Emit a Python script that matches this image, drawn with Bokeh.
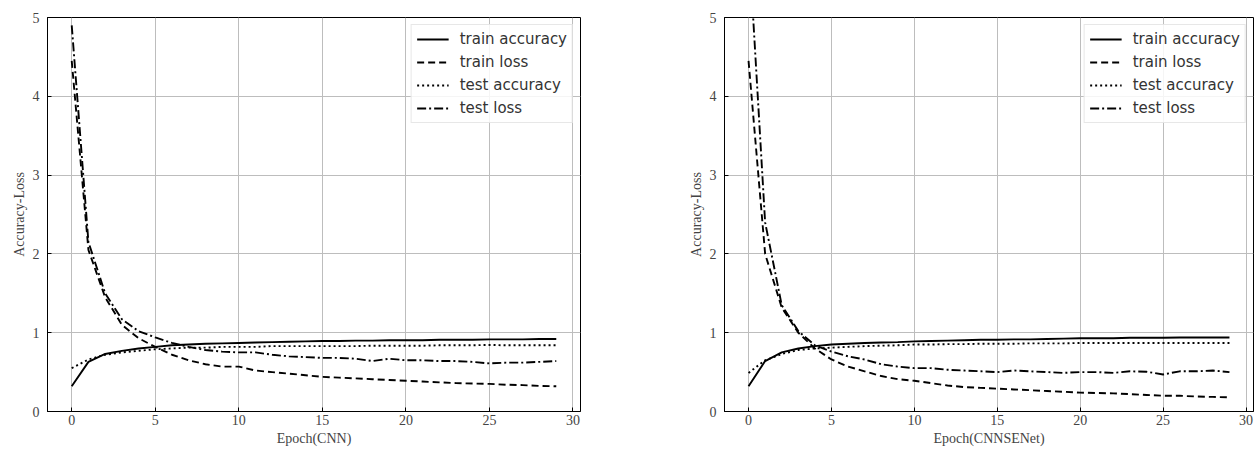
from bokeh.plotting import figure
from bokeh.layouts import row
from bokeh.models import Range1d, FixedTicker
from bokeh.embed import file_html
from bokeh.resources import INLINE

epochs = list(range(30))

# ---- CNN (left) ----
cnn_train_acc = [0.32, 0.63, 0.73, 0.77, 0.80, 0.82, 0.84, 0.85, 0.86, 0.865,
                 0.87, 0.875, 0.88, 0.885, 0.89, 0.895, 0.895, 0.90, 0.90, 0.905,
                 0.905, 0.905, 0.91, 0.91, 0.91, 0.915, 0.915, 0.915, 0.92, 0.92]
cnn_train_loss = [4.45, 2.05, 1.45, 1.10, 0.93, 0.82, 0.72, 0.65, 0.60, 0.57,
                  0.57, 0.52, 0.50, 0.48, 0.46, 0.44, 0.43, 0.42, 0.41, 0.40,
                  0.39, 0.38, 0.37, 0.36, 0.355, 0.35, 0.34, 0.335, 0.325, 0.32]
cnn_test_acc = [0.55, 0.66, 0.72, 0.75, 0.77, 0.79, 0.80, 0.81, 0.81, 0.82,
                0.82, 0.82, 0.83, 0.83, 0.83, 0.83, 0.83, 0.83, 0.835, 0.835,
                0.835, 0.835, 0.84, 0.84, 0.84, 0.845, 0.84, 0.84, 0.84, 0.84]
cnn_test_loss = [4.90, 2.15, 1.50, 1.17, 1.02, 0.94, 0.87, 0.82, 0.78, 0.76,
                 0.75, 0.75, 0.72, 0.70, 0.69, 0.68, 0.68, 0.67, 0.64, 0.67,
                 0.65, 0.65, 0.64, 0.64, 0.63, 0.61, 0.62, 0.62, 0.63, 0.64]

# ---- CNNSENet (right) ----
se_train_acc = [0.32, 0.64, 0.75, 0.80, 0.83, 0.85, 0.86, 0.87, 0.875, 0.88,
                0.89, 0.895, 0.90, 0.905, 0.91, 0.91, 0.915, 0.915, 0.92, 0.925,
                0.93, 0.93, 0.93, 0.935, 0.935, 0.935, 0.94, 0.94, 0.94, 0.94]
se_train_loss = [4.45, 2.00, 1.32, 1.00, 0.80, 0.66, 0.57, 0.51, 0.45, 0.41,
                 0.39, 0.36, 0.33, 0.31, 0.30, 0.29, 0.28, 0.27, 0.26, 0.25,
                 0.24, 0.235, 0.23, 0.22, 0.21, 0.20, 0.20, 0.19, 0.185, 0.18]
se_test_acc = [0.49, 0.65, 0.73, 0.78, 0.80, 0.81, 0.82, 0.83, 0.835, 0.84,
               0.85, 0.85, 0.855, 0.855, 0.86, 0.86, 0.86, 0.865, 0.865, 0.865,
               0.87, 0.87, 0.87, 0.87, 0.87, 0.87, 0.87, 0.87, 0.87, 0.87]
se_test_loss = [6.00, 2.40, 1.35, 1.02, 0.84, 0.76, 0.70, 0.66, 0.60, 0.57,
                0.55, 0.55, 0.53, 0.52, 0.51, 0.50, 0.52, 0.51, 0.50, 0.49,
                0.50, 0.50, 0.49, 0.51, 0.505, 0.47, 0.51, 0.51, 0.52, 0.50]

x_ticks = [0, 5, 10, 15, 20, 25, 30]
y_ticks = [0, 1, 2, 3, 4, 5]
legend_labels = ["train accuracy", "train loss", "test accuracy", "test loss"]
dashes = ["solid", "7 4", "2 3", "9 3 2 3"]


def make_plot(width, bl, br, bb, xlabel, series):
    p = figure(width=width, height=455, output_backend="svg", toolbar_location=None,
               x_range=Range1d(-1.45, 30.45), y_range=Range1d(0, 5),
               min_border_left=bl, min_border_right=br, min_border_top=17,
               min_border_bottom=bb)
    p.background_fill_color = "white"
    p.border_fill_color = "white"
    p.outline_line_color = "black"
    p.outline_line_width = 1
    for lab, ys, d in zip(legend_labels, series, dashes):
        p.line(epochs, ys, line_color="black", line_width=1.9, line_dash=d,
               legend_label=lab)
    p.xaxis.ticker = FixedTicker(ticks=x_ticks)
    p.yaxis.ticker = FixedTicker(ticks=y_ticks)
    for ax in (p.xaxis[0], p.yaxis[0]):
        ax.major_tick_in = 4
        ax.major_tick_out = 0
        ax.minor_tick_line_color = None
        ax.major_tick_line_color = "black"
        ax.axis_line_color = "black"
        ax.major_label_text_font = "Liberation Serif"
        ax.major_label_text_font_size = "14px"
        ax.major_label_text_color = "#444444"
        ax.axis_label_text_font = "Liberation Serif"
        ax.axis_label_text_font_size = "14px"
        ax.axis_label_text_font_style = "normal"
        ax.axis_label_text_color = "#444444"
    p.xaxis.major_label_standoff = 3
    p.xaxis.axis_label_standoff = 3
    p.yaxis.major_label_standoff = 8
    p.yaxis.axis_label_standoff = 3
    p.xaxis.axis_label = xlabel
    p.yaxis.axis_label = "Accuracy-Loss"
    p.xgrid.grid_line_color = "#bdbdbd"
    p.ygrid.grid_line_color = "#bdbdbd"
    p.xgrid.grid_line_width = 1
    p.ygrid.grid_line_width = 1
    lg = p.legend[0]
    lg.location = "top_right"
    lg.margin = 7
    lg.padding = 5
    lg.spacing = 5
    lg.glyph_width = 32
    lg.glyph_height = 18
    lg.label_height = 18
    lg.label_standoff = 11
    lg.label_text_font = "DejaVu Sans"
    lg.label_text_font_size = "15px"
    lg.label_text_color = "#333333"
    lg.border_line_color = "#d0d0d0"
    lg.border_line_width = 1
    lg.background_fill_color = "white"
    lg.background_fill_alpha = 0.85
    return p


p1 = make_plot(620, 47, 40, 41, "Epoch(CNN)",
               [cnn_train_acc, cnn_train_loss, cnn_test_acc, cnn_test_loss])
p2 = make_plot(636, 104, 3, 44, "Epoch(CNNSENet)",
               [se_train_acc, se_train_loss, se_test_acc, se_test_loss])

layout = row(p1, p2)
open("out.html", "w").write(file_html(layout, INLINE))
